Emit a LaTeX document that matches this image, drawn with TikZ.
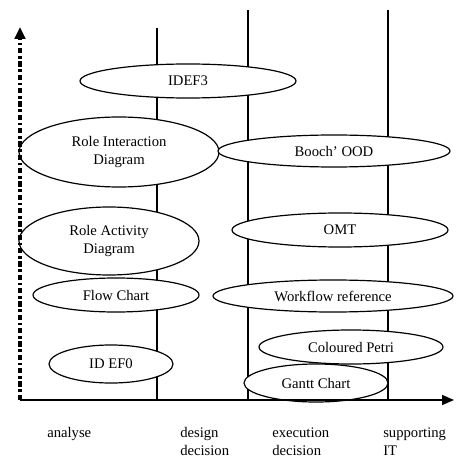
\documentclass[tikz,border=0pt]{standalone}
\usepackage{fontspec}
\setmainfont{Liberation Serif}
\usetikzlibrary{shapes.geometric,arrows.meta}
\begin{document}
\begin{tikzpicture}[x=0.75pt,y=-0.75pt,
  tech/.style={ellipse,draw,fill=white,line width=0.9pt,inner sep=0pt,
    font=\fontsize{11}{13.5}\selectfont,align=center},
  guide/.style={line width=0.9pt},
  lbl/.style={font=\fontsize{11}{13.5}\selectfont,anchor=base west,inner sep=0pt}]
\useasboundingbox[fill=white] (0,0) rectangle (457,463);

% guide lines
\coordinate (v1t) at (157,28);  \coordinate (v1b) at (157,400);
\coordinate (v2t) at (248,10);  \coordinate (v2b) at (248,400);
\coordinate (v3t) at (388,10);  \coordinate (v3b) at (388,400);
\draw[guide] (v1t) -- (v1b);
\draw[guide] (v2t) -- (v2b);
\draw[guide] (v3t) -- (v3b);

% techniques
\node[tech,minimum width=162pt,minimum height=25.5pt] (idef3) at (188,81) {IDEF3};
\node[tech,minimum width=150pt,minimum height=52.5pt] (rid) at (119,152) {Role Interaction\\Diagram};
\node[tech,minimum width=174pt,minimum height=24pt] (booch) at (334,151) {Booch' OOD};
\node[tech,minimum width=135pt,minimum height=51pt] (rad) at (109,241) {Role Activity\\Diagram};
\node[tech,minimum width=162pt,minimum height=25.5pt] (omt) at (340,230) {OMT};
\node[tech,minimum width=124.5pt,minimum height=25.5pt] (flow) at (116,295) {Flow Chart};
\node[tech,minimum width=180pt,minimum height=24pt] (wfr) at (333,296) {Workflow reference};
\node[tech,minimum width=93pt,minimum height=28.5pt] (idef0) at (111,364) {ID EF0};
\node[tech,minimum width=138pt,minimum height=25.5pt] (petri) at (351,347) {Coloured Petri};
\node[tech,minimum width=108pt,minimum height=28.5pt] (gantt) at (316,383) {Gantt Chart};

% axes
\coordinate (O) at (20,400);
\coordinate (ytop) at (20,27);
\coordinate (xend) at (454,400);
\draw[line width=1.2pt,-{Triangle[length=9pt,width=7.5pt]}] (O) -- (xend);
\draw[line width=2.4pt,dash pattern=on 4pt off 2pt on 2pt off 2pt,
      -{Triangle[length=9pt,width=8pt]}] (O) -- (ytop);

% phase labels
\node[lbl] (l1) at (47,437) {analyse};
\node[lbl] (l2a) at (180,437) {design};
\node[lbl] (l2b) at (180,455) {decision};
\node[lbl] (l3a) at (272,437) {execution};
\node[lbl] (l3b) at (272,455) {decision};
\node[lbl] (l4a) at (383,437) {supporting};
\node[lbl] (l4b) at (383,455) {IT};
\end{tikzpicture}
\end{document}
